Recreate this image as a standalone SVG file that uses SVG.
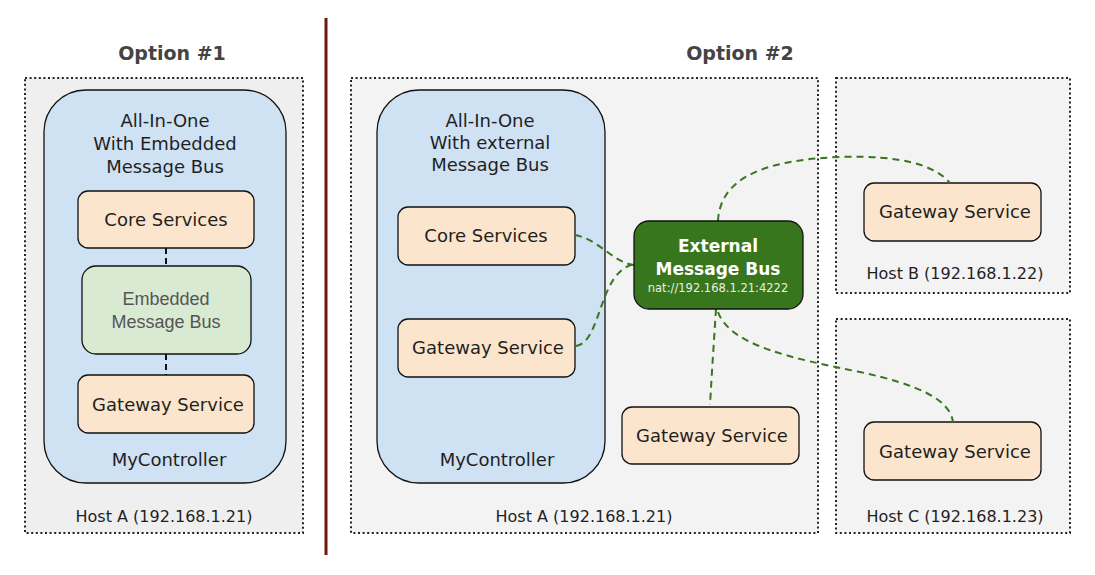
<svg xmlns="http://www.w3.org/2000/svg" width="1095" height="575" viewBox="0 0 1095 575">
<style>
.host{stroke:#222;stroke-width:2;stroke-dasharray:2 2.6;}
.ctl{fill:#cfe2f3;stroke:#111;stroke-width:1.3;}
.svc{fill:#fce5cd;stroke:#111;stroke-width:1.3;}
.t{font-family:"DejaVu Sans",sans-serif;font-size:18px;fill:#1f1f1f;text-anchor:middle;}
.h{font-family:"DejaVu Sans",sans-serif;font-size:16px;fill:#1f1f1f;text-anchor:middle;}
.title{font-family:"DejaVu Sans",sans-serif;font-size:19px;font-weight:bold;fill:#444;text-anchor:middle;}
.emb{font-family:"Liberation Sans",Arial,sans-serif;font-size:18px;fill:#555;text-anchor:middle;}
.wb{font-family:"DejaVu Sans",sans-serif;font-size:17px;font-weight:bold;fill:#fff;text-anchor:middle;}
.ws{font-family:"DejaVu Sans",sans-serif;font-size:11.5px;fill:#e8f0e4;text-anchor:middle;}
.bk{fill:none;stroke:#111;stroke-width:2;stroke-dasharray:6 4;}
.gr{fill:none;stroke:#38761d;stroke-width:2;stroke-dasharray:7 5;}
</style>
<rect width="1095" height="575" fill="#fff"/>
<text class="title" x="172" y="60">Option #1</text>
<text class="title" x="740" y="60">Option #2</text>
<line x1="326" y1="18" x2="326" y2="555" stroke="#6e1a0e" stroke-width="3"/>

<g id="hostA1">
<rect class="host" x="25" y="78" width="278" height="455" fill="#efefef"/>
<text class="h" x="164" y="522">Host A (192.168.1.21)</text>
</g>
<g id="controller1">
<rect class="ctl" x="44" y="90" width="242" height="393" rx="42"/>
<text class="t" x="165" y="127">All-In-One</text>
<text class="t" x="165" y="150">With Embedded</text>
<text class="t" x="165" y="173">Message Bus</text>
<text class="t" x="169" y="466">MyController</text>
</g>
<g id="core1">
<rect class="svc" x="78" y="191" width="176" height="57" rx="10"/>
<text class="t" x="166" y="226">Core Services</text>
</g>
<g id="embedded1">
<rect x="82" y="266" width="169" height="88" rx="14" fill="#d9ead3" stroke="#111" stroke-width="1.3"/>
<text class="emb" x="166" y="305">Embedded</text>
<text class="emb" x="166" y="328">Message Bus</text>
</g>
<g id="gateway1">
<rect class="svc" x="78" y="375" width="176" height="58" rx="10"/>
<text class="t" x="168" y="411">Gateway Service</text>
</g>

<g id="hostA2">
<rect class="host" x="351" y="78" width="467" height="455" fill="#f3f3f3"/>
<text class="h" x="584" y="522">Host A (192.168.1.21)</text>
</g>
<g id="controller2">
<rect class="ctl" x="377" y="90" width="228" height="393" rx="42"/>
<text class="t" x="490" y="127">All-In-One</text>
<text class="t" x="490" y="149">With external</text>
<text class="t" x="490" y="171">Message Bus</text>
<text class="t" x="497" y="466">MyController</text>
</g>
<g id="core2">
<rect class="svc" x="398" y="207" width="177" height="58" rx="10"/>
<text class="t" x="486" y="242">Core Services</text>
</g>
<g id="gateway2">
<rect class="svc" x="398" y="319" width="177" height="58" rx="10"/>
<text class="t" x="488" y="354">Gateway Service</text>
</g>
<g id="gateway3">
<rect class="svc" x="622" y="407" width="177" height="57" rx="10"/>
<text class="t" x="712" y="442">Gateway Service</text>
</g>

<g id="hostB">
<rect class="host" x="836" y="78" width="234" height="215" fill="#f3f3f3"/>
<text class="h" x="955" y="279">Host B (192.168.1.22)</text>
</g>
<g id="gatewayB">
<rect class="svc" x="864" y="183" width="177" height="58" rx="10"/>
<text class="t" x="955" y="218">Gateway Service</text>
</g>
<g id="hostC">
<rect class="host" x="836" y="319" width="234" height="214" fill="#f3f3f3"/>
<text class="h" x="955" y="522">Host C (192.168.1.23)</text>
</g>
<g id="gatewayC">
<rect class="svc" x="864" y="422" width="177" height="58" rx="10"/>
<text class="t" x="955" y="458">Gateway Service</text>
</g>

<g id="connectors">
<line class="bk" x1="166" y1="248" x2="166" y2="266"/>
<line class="bk" x1="166" y1="354" x2="166" y2="375"/>
<path class="gr" d="M575,235 C600,240 612,262 634,265"/>
<path class="gr" d="M576,346 C602,342 598,272 634,264"/>
<path class="gr" d="M718,221 C720,180 760,160 840,157 C900,155 935,165 950,183"/>
<path class="gr" d="M716,309 C714,340 712,370 710,405"/>
<path class="gr" d="M718,312 C730,345 790,358 860,372 C920,385 950,400 953,422"/>
</g>

<g id="bus">
<rect x="634" y="221" width="169" height="88" rx="15" fill="#38761d" stroke="#111" stroke-width="1.3"/>
<text class="wb" x="718" y="252">External</text>
<text class="wb" x="718" y="275">Message Bus</text>
<text class="ws" x="718" y="292">nat://192.168.1.21:4222</text>
</g>
</svg>
